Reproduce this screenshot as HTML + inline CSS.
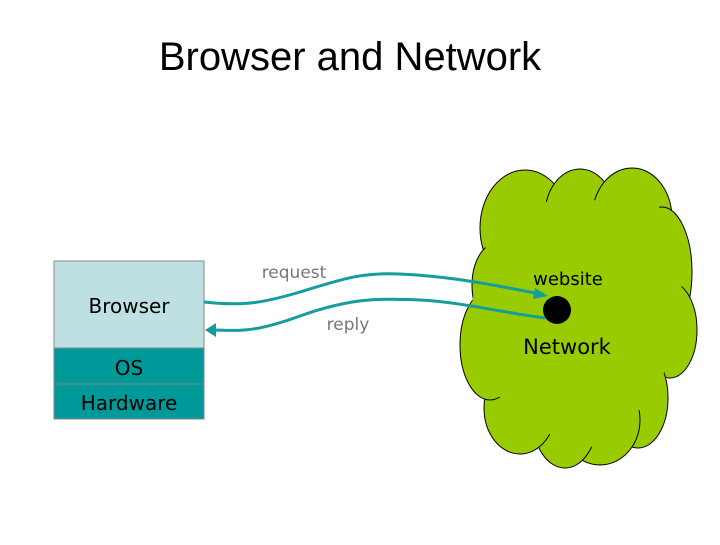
<!DOCTYPE html>
<html><head><style>
body{margin:0;background:#fff;width:720px;height:540px;overflow:hidden;font-family:"Liberation Sans","DejaVu Sans",sans-serif}
</style></head><body>
<svg width="720" height="540" viewBox="0 0 720 540" xmlns="http://www.w3.org/2000/svg">
<text x="350" y="70" font-size="40" text-anchor="middle" font-family="Liberation Sans, sans-serif">Browser and Network</text>
<rect x="54" y="261" width="150" height="87" fill="#bfe0e2" stroke="#888"/>
<rect x="54" y="348" width="150" height="36" fill="#009999" stroke="#888"/>
<rect x="54" y="384" width="150" height="35" fill="#009999" stroke="#888"/>
<g font-family="DejaVu Sans, sans-serif" text-anchor="middle" fill="#000">
<text x="129" y="313" font-size="20">Browser</text>
<text x="129" y="375" font-size="20">OS</text>
<text x="129" y="410" font-size="20">Hardware</text>
</g>
<g fill="#99cc00" stroke="#000" stroke-width="1">
<ellipse cx="525" cy="228" rx="45" ry="58"/>
<ellipse cx="580" cy="215" rx="35" ry="46"/>
<ellipse cx="632" cy="218" rx="40" ry="50"/>
<ellipse cx="662" cy="272" rx="30" ry="65"/>
<ellipse cx="670" cy="330" rx="27" ry="48"/>
<ellipse cx="638" cy="398" rx="30" ry="50"/>
<ellipse cx="600" cy="420" rx="40" ry="45"/>
<ellipse cx="565" cy="420" rx="32" ry="48"/>
<ellipse cx="520" cy="408" rx="36" ry="46"/>
<ellipse cx="490" cy="345" rx="30" ry="55"/>
<ellipse cx="497" cy="285" rx="25" ry="42"/>
</g>
<g fill="#99cc00" stroke="none">
<ellipse cx="575" cy="318" rx="100" ry="120"/>
<ellipse cx="525" cy="240" rx="40" ry="45"/>
<ellipse cx="632" cy="230" rx="33" ry="40"/>
<ellipse cx="660" cy="300" rx="22" ry="60"/>
<ellipse cx="530" cy="400" rx="28" ry="38"/>
<ellipse cx="600" cy="410" rx="32" ry="38"/>
<ellipse cx="495" cy="320" rx="24" ry="55"/>
</g>
<circle cx="557" cy="310" r="14" fill="#000"/>
<text x="568" y="285" font-size="18" text-anchor="middle" font-family="DejaVu Sans, sans-serif">website</text>
<text x="567" y="354" font-size="21" text-anchor="middle" font-family="DejaVu Sans, sans-serif">Network</text>
<g fill="none" stroke="#169c9c" stroke-width="3">
<path d="M204 302 C240 306,260 304,300 292 S360 272,400 274 S470 280,540 294"/>
<path d="M545 318 C500 312,460 302,420 300 S350 298,300 316 S240 330,210 330"/>
</g>
<polygon points="548,296 535,288 533,299" fill="#169c9c"/>
<polygon points="205,330 216,323 216,337" fill="#169c9c"/>
<text x="294" y="278" font-size="17" text-anchor="middle" fill="#777" font-family="DejaVu Sans, sans-serif">request</text>
<text x="348" y="330" font-size="17" text-anchor="middle" fill="#777" font-family="DejaVu Sans, sans-serif">reply</text>
</svg>
</body></html>
